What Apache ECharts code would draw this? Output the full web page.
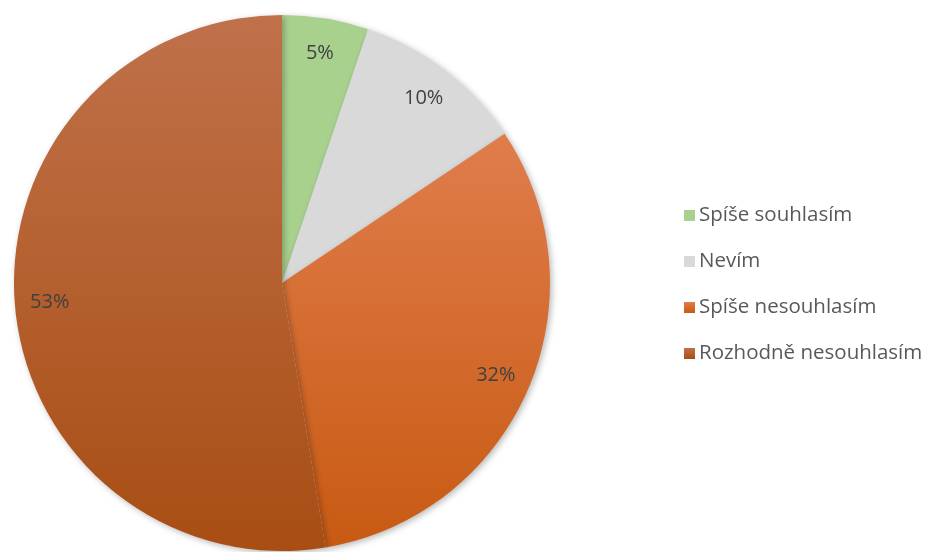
<!DOCTYPE html>
<html><head><meta charset="utf-8">
<script src="https://cdn.jsdelivr.net/npm/echarts@6/dist/echarts.min.js"></script>
<style>html,body{margin:0;padding:0;background:#fff}#c{width:930px;height:552px}</style>
</head><body><div id="c"></div>
<script>
const categories = ['Spíše souhlasím', 'Nevím', 'Spíše nesouhlasím', 'Rozhodně nesouhlasím'];
const values = [5.2, 10.4, 31.8, 52.6];
const colorTop = ['#a9d18e', '#d9d9d9', '#e07d4c', '#c0714a'];
const colorBottom = ['#a9d18e', '#d9d9d9', '#c85a12', '#a84e14'];

function grad(i) {
  return new echarts.graphic.LinearGradient(0, 0, 0, 1, [
    { offset: 0, color: colorTop[i] }, { offset: 1, color: colorBottom[i] }
  ]);
}
const chart = echarts.init(document.getElementById('c'));
const fontFam = '"Open Sans", sans-serif';
chart.setOption({
  animation: false,
  legend: {
    orient: 'vertical', left: 679, top: 200, itemWidth: 11, itemHeight: 11, itemGap: 25,
    icon: 'rect',
    textStyle: { fontSize: 20.5, color: '#595959', fontFamily: fontFam, lineHeight: 21, padding: [0, 0, 0, -1] },
    data: categories
  },
  series: [{
    type: 'pie', center: [282, 283], radius: 268, startAngle: 90, clockwise: true,
    silent: true,
    label: { show: false }, labelLine: { show: false },
    itemStyle: { borderWidth: 0, shadowBlur: 6, shadowColor: 'rgba(0,0,0,0.28)', shadowOffsetX: 2, shadowOffsetY: 2 },
    data: categories.map((n, i) => ({ name: n, value: values[i], itemStyle: { color: grad(i) } }))
  }, {
    type: 'pie', center: [282, 283], radius: [192, 268], startAngle: 90, clockwise: true,
    silent: true, legendHoverLink: false,
    itemStyle: { color: 'rgba(0,0,0,0)', borderWidth: 0 },
    label: {
      show: true, position: 'inside', fontSize: 20, color: '#404040', fontFamily: fontFam,
      formatter: p => Math.round(p.percent) + '%'
    },
    labelLine: { show: false },
    data: categories.map((n, i) => ({ name: n + ' ', value: values[i] }))
  }]
});
</script></body></html>
